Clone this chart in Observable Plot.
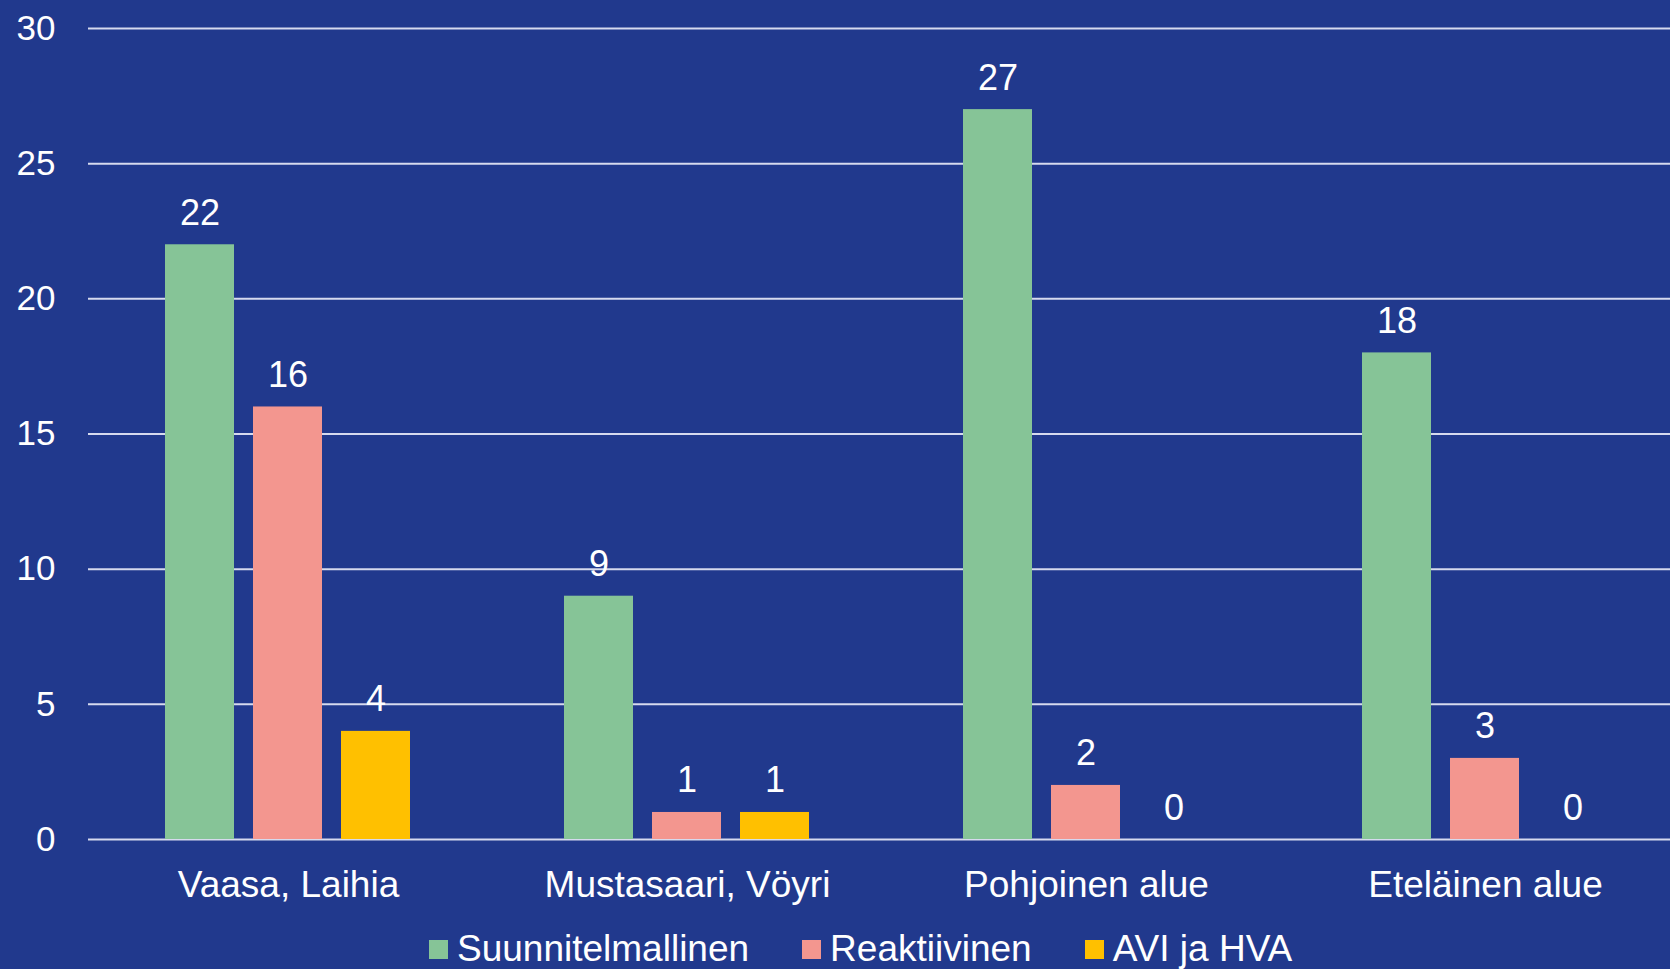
<!DOCTYPE html>
<html>
<head>
<meta charset="utf-8">
<script src="https://cdn.jsdelivr.net/npm/d3@7"></script>
<script src="https://cdn.jsdelivr.net/npm/@observablehq/plot@0.6"></script>
<style>
  html, body { margin: 0; padding: 0; background: #21398D; overflow: hidden; width: 1670px; height: 969px; }
  #chart { position: relative; width: 1685px; height: 915px; }
  #chart svg { display: block; position: absolute; left: 0; top: 0; }
  #legend { display: flex; align-items: flex-start; height: 54px; padding-top: 15px; box-sizing: border-box; padding-left: 429px;
            font-family: "Liberation Sans", Arial, sans-serif; font-size: 37px; line-height: 37px; color: white; }
  .item { display: flex; align-items: flex-start; margin-right: 53px; }
  .sw { width: 19px; height: 19px; margin-top: 10px; margin-right: 9px; }
</style>
</head>
<body>
<div id="chart"></div>
<div id="legend"></div>
<script>
const categories = ["Vaasa, Laihia", "Mustasaari, Vöyri", "Pohjoinen alue", "Eteläinen alue"];
const series = ["Suunnitelmallinen", "Reaktiivinen", "AVI ja HVA"];
const suunnitelmallinen = [22, 9, 27, 18];
const reaktiivinen = [16, 1, 2, 3];
const aviJaHva = [4, 1, 0, 0];
const yTicks = [0, 5, 10, 15, 20, 25, 30];
const colors = ["#86C497", "#F3968F", "#FFC000"];

const values = [suunnitelmallinen, reaktiivinen, aviJaHva];
const data = categories.flatMap((c, i) => series.map((s, j) => ({category: c, series: s, value: values[j][i]})));

const font = "'Liberation Sans', Arial, sans-serif";
const dims = {width: 1685, height: 915, marginLeft: 88, marginRight: 0, marginTop: 28, marginBottom: 76};

// Base layer: gridlines and y axis across the whole plot area
const base = Plot.plot({
  ...dims,
  style: {background: "transparent", color: "white", fontFamily: font},
  y: {domain: [0, 30], axis: null},
  marks: [
    Plot.ruleY(yTicks, {stroke: "#D6DAEE", strokeWidth: 2}),
    Plot.axisY(yTicks, {anchor: "left", tickSize: 0, tickPadding: 33, fontSize: 35, label: null, fill: "white"})
  ]
});

// Bar layer: grouped bars through fx faceting
const bars = Plot.plot({
  ...dims,
  style: {background: "transparent", color: "white", fontFamily: font},
  fx: {domain: categories, paddingInner: 0.3826, paddingOuter: 0.1913, label: null},
  x: {domain: series, paddingInner: 0.2147, paddingOuter: 0, axis: null},
  y: {domain: [0, 30], axis: null},
  color: {domain: series, range: colors},
  marks: [
    Plot.barY(data, {fx: "category", x: "series", y: "value", fill: "series"}),
    Plot.text(data, {fx: "category", x: "series", y: "value", text: d => String(d.value), dy: -20, lineAnchor: "bottom", fill: "white", fontSize: 36}),
    Plot.axisFx({anchor: "bottom", tickSize: 0, tickPadding: 31, fontSize: 37, label: null, fill: "white"})
  ]
});

const holder = document.getElementById("chart");
holder.appendChild(base);
holder.appendChild(bars);

const legend = document.getElementById("legend");
series.forEach((s, i) => {
  const item = document.createElement("div");
  item.className = "item";
  const sw = document.createElement("div");
  sw.className = "sw";
  sw.style.background = colors[i];
  const t = document.createElement("span");
  t.textContent = s;
  item.appendChild(sw);
  item.appendChild(t);
  legend.appendChild(item);
});
</script>
</body>
</html>
